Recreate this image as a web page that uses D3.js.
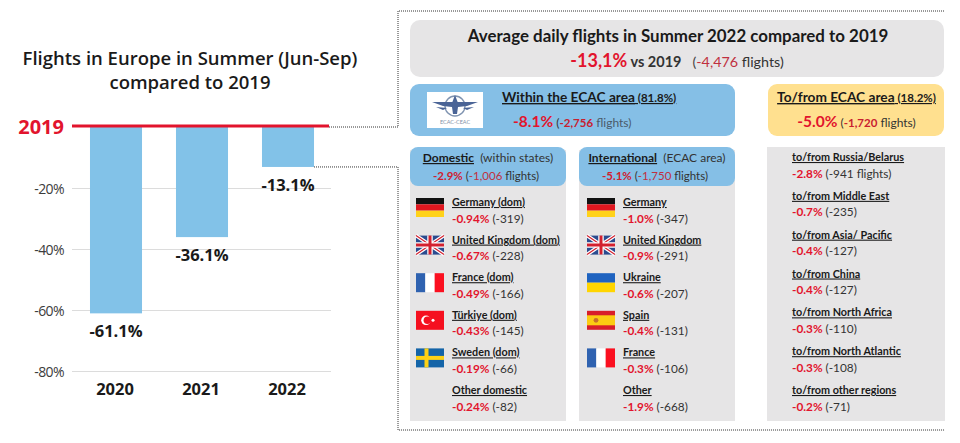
<!DOCTYPE html>
<html>

<head>
  <meta charset="UTF-8">
  <title>Flights in Europe in Summer</title>
  <script src="https://d3js.org/d3.v7.min.js"></script>
  <style>
    html, body { margin: 0; padding: 0; background: #fff; }
    svg { display: block; }
    .panel text { font-family: Lato, "Open Sans", sans-serif; }
  </style>
</head>

<body>
  <svg></svg>
</body>

<script>
  const years = ["2020", "2021", "2022"];
  const yearValues = [-61.1, -36.1, -13.1];
  const yTicks = [-20, -40, -60, -80];

  const domesticNames = ["Germany (dom)", "United Kingdom (dom)", "France (dom)", "Türkiye (dom)", "Sweden (dom)", "Other domestic"];
  const domesticFlags = ["de", "uk", "fr", "tr", "se", null];
  const domesticPct = ["-0.94%", "-0.67%", "-0.49%", "-0.43%", "-0.19%", "-0.24%"];
  const domesticCount = ["(-319)", "(-228)", "(-166)", "(-145)", "(-66)", "(-82)"];

  const intlNames = ["Germany", "United Kingdom", "Ukraine", "Spain", "France", "Other"];
  const intlFlags = ["de", "uk", "ua", "es", "fr", null];
  const intlPct = ["-1.0%", "-0.9%", "-0.6%", "-0.4%", "-0.3%", "-1.9%"];
  const intlCount = ["(-347)", "(-291)", "(-207)", "(-131)", "(-106)", "(-668)"];

  const extNames = ["to/from Russia/Belarus", "to/from Middle East", "to/from Asia/ Pacific", "to/from China", "to/from North Africa", "to/from North Atlantic", "to/from other regions"];
  const extPct = ["-2.8%", "-0.7%", "-0.4%", "-0.4%", "-0.3%", "-0.3%", "-0.2%"];
  const extCount = ["(-941 flights)", "(-235)", "(-127)", "(-127)", "(-110)", "(-108)", "(-71)"];

  const width = 960, height = 443;
  const red = "#e2142d", ink = "#1a1a1a", grey = "#e6e5e6", blue = "#85bfe6", yellow = "#ffe08f";

  let svg = d3.select("svg").attr("width", width).attr("height", height).attr("viewBox", "0 0 " + width + " " + height);

  // left chart
  let x = d3.scaleBand().domain(years).range([73, 331]).paddingInner(0.395).paddingOuter(0.1975);
  let y = d3.scaleLinear().domain([-80, 0]).range([371, 127]);

  let left = svg.append("g").style("font-family", '"Open Sans", sans-serif');

  left.append("text").attr("x", 190).attr("y", 65).attr("text-anchor", "middle")
    .attr("font-size", 18.5).attr("font-weight", 600).attr("fill", ink).text("Flights in Europe in Summer (Jun-Sep)");
  left.append("text").attr("x", 190).attr("y", 89).attr("text-anchor", "middle")
    .attr("font-size", 18.5).attr("font-weight", 600).attr("fill", ink).text("compared to 2019");

  let axis = left.append("g").attr("transform", "translate(72,0)")
    .call(d3.axisLeft(y).tickValues(yTicks).tickSize(-259).tickFormat(d => d + "%"));
  axis.select(".domain").remove();
  axis.selectAll("line").attr("stroke", "#dcdcdc");
  axis.selectAll("text").attr("x", -8).attr("dy", "0.42em").attr("font-size", 14).attr("fill", "#3c3c3c")
    .style("font-family", '"Open Sans", sans-serif').style("letter-spacing", "-0.6px");

  left.selectAll("rect.bar").data(years).enter().append("rect").attr("class", "bar")
    .attr("x", d => x(d)).attr("width", x.bandwidth())
    .attr("y", y(0)).attr("height", (d, i) => y(yearValues[i]) - y(0))
    .attr("fill", "#82c2e8");

  left.selectAll("text.val").data(years).enter().append("text").attr("class", "val")
    .attr("x", d => x(d) + x.bandwidth() / 2)
    .attr("y", (d, i) => y(yearValues[i]) + 24)
    .attr("text-anchor", "middle").attr("font-size", 16.5).attr("font-weight", 700).attr("fill", ink)
    .text((d, i) => yearValues[i].toFixed(1) + "%");

  left.selectAll("text.year").data(years).enter().append("text").attr("class", "year")
    .attr("x", d => x(d) + x.bandwidth() / 2 - 1).attr("y", 395)
    .attr("text-anchor", "middle").attr("font-size", 16.5).attr("font-weight", 700).attr("fill", ink)
    .text(d => d);

  left.append("text").attr("x", 64).attr("y", y(0) + 7).attr("text-anchor", "end")
    .attr("font-size", 20).attr("font-weight", 700).attr("fill", red).text("2019");
  left.append("line").attr("x1", 72).attr("x2", 329).attr("y1", y(0) - 1).attr("y2", y(0) - 1)
    .attr("stroke", red).attr("stroke-width", 3);

  // dotted connectors
  const dotted = d3.line();
  svg.append("path").attr("d", dotted([[329, y(0)], [398, y(0)], [398, 11], [945, 11]]))
    .attr("fill", "none").attr("stroke", "#333").attr("stroke-width", 1).attr("stroke-dasharray", "1 1");
  svg.append("path").attr("d", dotted([[x("2022") + x.bandwidth(), y(-13.1)], [398, y(-13.1)], [398, 430], [945, 430]]))
    .attr("fill", "none").attr("stroke", "#333").attr("stroke-width", 1).attr("stroke-dasharray", "1 1");

  // right panel
  let panel = svg.append("g").attr("class", "panel");

  function box(x0, y0, x1, y1, fill, r) {
    panel.append("rect").attr("x", x0).attr("y", y0).attr("width", x1 - x0).attr("height", y1 - y0)
      .attr("rx", r).attr("fill", fill);
  }

  // parts: [text, size, weight, colour, underline]
  function rich(px, py, anchor, parts) {
    let t = panel.append("text").attr("x", px).attr("y", py).attr("text-anchor", anchor);
    parts.forEach(p => {
      t.append("tspan").attr("font-size", p[1]).attr("font-weight", p[2]).attr("fill", p[3])
        .style("text-decoration", p[4] ? "underline" : null)
        .style("white-space", "pre").text(p[0]);
    });
    return t;
  }

  box(410, 20, 944, 77, grey, 10);
  box(410, 84, 735, 136, blue, 9);
  box(768, 84, 944, 136, yellow, 9);
  box(410, 150, 566, 421, grey, 0);
  box(579, 150, 735, 421, grey, 0);
  box(767, 147, 945, 421, grey, 0);
  box(410, 147, 566, 186, blue, 8);
  box(579, 147, 735, 186, blue, 8);

  rich(678, 42, "middle", [["Average daily flights in Summer 2022 compared to 2019", 16.9, 700, ink]]);
  rich(677, 67, "middle", [["-13,1%", 18, 700, red], [" vs 2019", 14.5, 700, "#333"], ["   (", 14.3, 400, "#444"], ["-4,476", 14.3, 400, "#c03040"], [" flights)", 14.3, 400, "#333"]]);

  rich(502, 102, "start", [["Within the ECAC area", 13.7, 700, ink, true], [" (81.8%)", 11.5, 700, ink, true]]);
  rich(513, 127, "start", [["-8.1%", 15.5, 700, red], [" (", 12, 400, "#333"], ["-2,756", 11.5, 700, "#c8202f"], [" flights)", 12, 400, "#4a5a6a"]]);
  rich(856.5, 102, "middle", [["To/from ECAC area", 13.7, 700, ink, true], [" (18.2%)", 11.5, 700, ink, true]]);
  rich(856.5, 127, "middle", [["-5.0%", 15.5, 700, red], [" (", 12, 400, "#333"], ["-1,720", 11.5, 700, "#c8202f"], [" flights)", 12, 400, "#333"]]);

  rich(488, 162, "middle", [["Domestic", 12, 700, ink, true], ["  (within states)", 12, 400, "#333"]]);
  rich(486, 180, "middle", [["-2.9%", 11.5, 700, "#d0202f"], [" (", 11.5, 400, "#333"], ["-1,006", 11.5, 400, "#c03040"], [" flights)", 11.5, 400, "#333"]]);
  rich(657, 162, "middle", [["International", 12, 700, ink, true], ["  (ECAC area)", 12, 400, "#333"]]);
  rich(655, 180, "middle", [["-5.1%", 11.5, 700, "#d0202f"], [" (", 11.5, 400, "#333"], ["-1,750", 11.5, 400, "#c03040"], [" flights)", 11.5, 400, "#333"]]);

  // white logo box with a small emblem
  box(427, 92, 483, 128, "#fff", 0);
  let logo = panel.append("g").attr("transform", "translate(455,106)");
  logo.append("circle").attr("r", 10).attr("fill", "none").attr("stroke", "#7f93b0").attr("stroke-width", 1.4);
  logo.append("path").attr("d", "M-23,-4 L23,-4 L12,0 L3,1 L2,8 L-2,8 L-3,1 L-12,0 Z M-19,1 L-8,2 L-12,4 Z M19,1 L8,2 L12,4 Z").attr("fill", "#4a6496");
  logo.append("path").attr("d", "M0,-11 L3,-3 L-3,-3 Z").attr("fill", "#4a6496");
  logo.append("text").attr("y", 18).attr("text-anchor", "middle").attr("font-size", 5.5).attr("fill", "#7f8fa8").text("ECAC-CEAC");

  // flags, drawn in a 28x19 box
  function stripes(g, colours, vertical) {
    let s = d3.scaleBand().domain(d3.range(colours.length)).range([0, vertical ? 28 : 19]);
    colours.forEach((c, i) => {
      g.append("rect").attr(vertical ? "x" : "y", s(i)).attr(vertical ? "width" : "height", s.bandwidth())
        .attr(vertical ? "height" : "width", vertical ? 19 : 28).attr("fill", c);
    });
  }
  const flagDraw = {
    de: g => stripes(g, ["#111", "#e0171f", "#ffd21a"], false),
    fr: g => stripes(g, ["#2f62b0", "#fff", "#fb1020"], true),
    ua: g => stripes(g, ["#1f63c0", "#ffd500"], false),
    es: g => {
      g.append("rect").attr("width", 28).attr("height", 19).attr("fill", "#d81e2a");
      g.append("rect").attr("y", 4.5).attr("width", 28).attr("height", 10).attr("fill", "#fbcc12");
      g.append("circle").attr("cx", 9).attr("cy", 9.5).attr("r", 2.4).attr("fill", "#c8702a");
    },
    se: g => {
      g.append("rect").attr("width", 28).attr("height", 19).attr("fill", "#1464a8");
      g.append("rect").attr("x", 8.5).attr("width", 4).attr("height", 19).attr("fill", "#fcd116");
      g.append("rect").attr("y", 7.5).attr("width", 28).attr("height", 4).attr("fill", "#fcd116");
    },
    tr: g => {
      g.append("rect").attr("width", 28).attr("height", 19).attr("fill", "#f5101f");
      g.append("circle").attr("cx", 10).attr("cy", 9.5).attr("r", 4.8).attr("fill", "#fff");
      g.append("circle").attr("cx", 11.4).attr("cy", 9.5).attr("r", 3.8).attr("fill", "#f5101f");
      g.append("circle").attr("cx", 17).attr("cy", 9.5).attr("r", 1.5).attr("fill", "#fff");
    },
    uk: g => {
      g.append("rect").attr("width", 28).attr("height", 19).attr("fill", "#2b4b8f");
      g.append("path").attr("d", "M0,0L28,19M28,0L0,19").attr("stroke", "#fff").attr("stroke-width", 3.6);
      g.append("path").attr("d", "M0,0L28,19M28,0L0,19").attr("stroke", "#d3202f").attr("stroke-width", 1.2);
      g.append("path").attr("d", "M14,0V19M0,9.5H28").attr("stroke", "#fff").attr("stroke-width", 5.5);
      g.append("path").attr("d", "M14,0V19M0,9.5H28").attr("stroke", "#d3202f").attr("stroke-width", 3);
    }
  };

  function rows(names, pcts, counts, flags, textX, flagX, first, last) {
    let rowY = d3.scalePoint().domain(names).range([first, last]);
    names.forEach((n, i) => {
      let ry = rowY(n);
      rich(textX, ry, "start", [[n, 10.8, 700, ink, true]]);
      rich(textX, ry + 16.5, "start", [[pcts[i], 11.8, 700, red], [" " + counts[i], 11.8, 400, "#333"]]);
      if (flags && flags[i]) {
        flagDraw[flags[i]](panel.append("g").attr("transform", "translate(" + flagX + "," + (ry - 8) + ")"));
      }
    });
  }

  rows(domesticNames, domesticPct, domesticCount, domesticFlags, 452, 416, 206, 394);
  rows(intlNames, intlPct, intlCount, intlFlags, 623, 587, 206, 394);
  rows(extNames, extPct, extCount, null, 792, 0, 161, 394);
</script>
</html>
